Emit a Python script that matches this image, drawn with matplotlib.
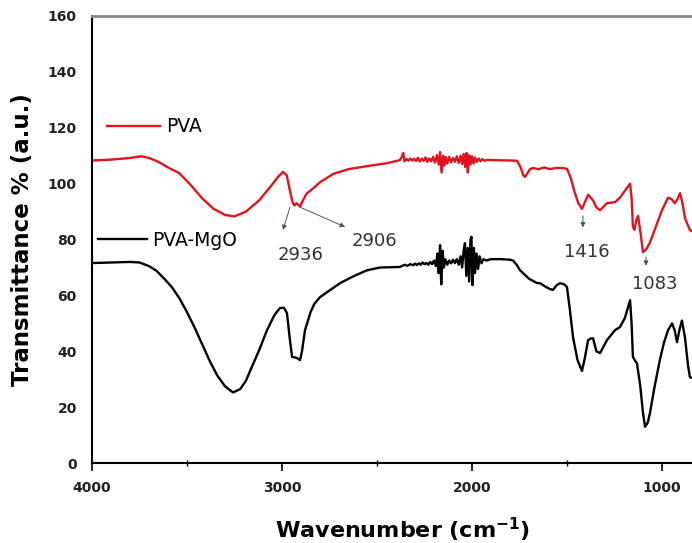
import matplotlib.pyplot as plt

# PVA spectrum (wavenumber cm-1, transmittance %)
pva_wn = [4000, 3900, 3800, 3740, 3700, 3650, 3600, 3542, 3480, 3421, 3360, 3300, 3250, 3190, 3121,
          3060, 3020, 2995, 2975, 2960, 2945, 2935, 2925, 2915, 2905, 2890, 2870, 2850, 2800,
          2730, 2650, 2550, 2450, 2380, 2370, 2362, 2355, 2345, 2335, 2325, 2315, 2305, 2295, 2285,
          2275, 2265, 2255, 2245, 2235, 2225, 2215, 2205, 2195, 2185, 2175, 2168, 2160, 2152, 2145,
          2138, 2130, 2120, 2110, 2100, 2090, 2080, 2070, 2060, 2052, 2044, 2036, 2028, 2022, 2015,
          2008, 2000, 1992, 1984, 1975, 1965, 1955, 1945, 1935, 1920, 1880, 1800, 1763, 1745, 1730,
          1721, 1710, 1695, 1679, 1650, 1620, 1590, 1560, 1520, 1500, 1480, 1460, 1440, 1421, 1405,
          1389, 1375, 1363, 1345, 1326, 1290, 1247, 1221, 1195, 1168, 1160, 1153, 1145, 1135, 1126,
          1112, 1100, 1083, 1063, 1030, 1000, 968, 950, 932, 918, 905, 892, 879, 853, 842]
pva_t = [108.3, 108.6, 109.2, 109.8, 109.2, 107.8, 105.8, 103.8, 99.5, 94.8, 91.0, 88.8, 88.3, 90.0, 94.0,
         99.0, 102.5, 104.2, 103.0, 98.0, 93.5, 92.2, 93.0, 92.5, 91.8, 94.0, 96.5, 97.5, 100.5,
         103.5, 105.2, 106.3, 107.3, 108.4, 109.5, 111.0, 108.0, 108.8, 108.2, 109.0, 108.3, 108.9, 108.1, 109.2,
         107.9, 109.0, 108.2, 109.4, 107.8, 109.0, 108.0, 109.6, 107.5, 110.2, 106.8, 111.3, 104.0, 110.0, 106.5,
         109.5, 107.2, 109.6, 107.6, 109.2, 107.8, 109.8, 107.4, 110.0, 107.0, 110.6, 106.0, 111.0, 104.0, 110.2,
         106.8, 109.8, 107.2, 109.4, 107.8, 109.0, 108.0, 108.8, 108.2, 108.5, 108.4, 108.3, 108.2, 106.0, 103.0,
         102.4, 103.5, 105.2, 105.6, 105.2, 105.8, 105.2, 105.6, 105.6, 105.3, 102.0, 97.0, 93.0, 91.0, 93.5,
         96.0, 95.0, 94.0, 91.5, 90.5, 93.0, 93.4, 95.0, 97.5, 100.0, 95.0, 84.5, 83.5, 87.0, 88.5,
         82.0, 75.5, 76.5, 79.0, 85.0, 90.5, 95.0, 94.5, 93.0, 94.5, 96.6, 93.0, 87.7, 83.4, 83.0]

# PVA-MgO spectrum
mgo_wn = [4000, 3900, 3800, 3750, 3700, 3660, 3620, 3580, 3540, 3500, 3460, 3420, 3380, 3342, 3300,
          3258, 3220, 3190, 3168, 3120, 3079, 3040, 3011, 2990, 2974, 2960, 2947, 2930, 2921, 2905,
          2895, 2879, 2850, 2830, 2800, 2750, 2695, 2620, 2553, 2484, 2380, 2370, 2355, 2340, 2325,
          2310, 2300, 2290, 2280, 2270, 2260, 2250, 2240, 2230, 2220, 2210, 2200, 2190, 2182, 2176,
          2168, 2162, 2155, 2148, 2140, 2130, 2120, 2110, 2100, 2090, 2080, 2070, 2060, 2052, 2044,
          2037, 2030, 2022, 2015, 2008, 2003, 1998, 1990, 1984, 1976, 1968, 1960, 1950, 1940, 1925,
          1900, 1850, 1800, 1784, 1765, 1747, 1700, 1660, 1642, 1610, 1590, 1574, 1555, 1537, 1515,
          1500, 1485, 1468, 1445, 1421, 1405, 1389, 1375, 1363, 1345, 1326, 1290, 1247, 1221, 1195,
          1168, 1160, 1153, 1140, 1132, 1115, 1100, 1089, 1075, 1063, 1040, 1011, 990, 968, 947,
          933, 921, 907, 895, 879, 863, 853, 842]
mgo_t = [71.6, 71.8, 72.0, 71.8, 70.5, 68.8, 66.0, 63.0, 59.0, 54.0, 48.5, 42.5, 36.5, 31.5, 27.5,
         25.3, 26.5, 29.5, 33.0, 40.5, 47.6, 53.0, 55.5, 55.6, 53.7, 45.0, 38.0, 37.8, 37.6, 36.9,
         40.0, 47.6, 54.0, 57.0, 59.4, 61.8, 64.4, 67.0, 69.0, 70.0, 70.2, 70.5, 71.0, 70.6, 71.2,
         70.8, 71.4, 70.9, 71.5, 71.0, 71.8, 71.2, 71.6, 71.0, 72.0, 71.2, 72.5, 70.5, 75.0, 68.0,
         78.0, 64.0, 76.0, 70.0, 73.0, 71.0, 72.5, 71.5, 72.8, 71.6, 73.0, 71.0, 74.0, 70.0, 76.0,
         78.7, 67.0, 77.0, 65.0, 80.0, 81.0, 63.7, 77.0, 68.0, 75.0, 69.5, 74.0, 71.5, 73.0, 72.5,
         73.0, 73.0, 72.8, 72.5, 71.0, 69.0, 66.0, 64.5, 64.4, 63.0, 62.3, 62.0, 63.6, 64.4, 64.0,
         63.0, 55.0, 45.0, 37.0, 33.0, 38.0, 44.0, 44.6, 44.7, 40.0, 39.4, 44.0, 47.6, 48.7, 52.0,
         58.3, 50.0, 38.0, 36.5, 35.8, 28.0, 18.0, 13.0, 14.5, 18.0, 27.0, 37.0, 43.0, 47.6, 50.0,
         47.5, 43.3, 48.0, 51.0, 45.0, 35.0, 30.8, 30.5]

# peak labels: text, arrow tail (wn, T), arrow head (wn, T), text position (wn, T)
peak_labels = ['2936', '2906', '1416', '1083']
peak_tail = [(2958, 91.6), (2905, 91.6), (1416, 88.5), (1084, 73.8)]
peak_head = [(2995, 83.4), (2668, 84.5), (1416, 84.3), (1084, 70.6)]
peak_text = [(2900, 74.4), (2511, 79.5), (1395, 75.7), (1037, 64.0)]

fig = plt.figure(figsize=(6.92, 5.43), dpi=100)
ax = fig.add_axes([0.133, 0.147, 0.867, 0.8236])

red_line, = ax.plot(pva_wn, pva_t, color='#e0141e', lw=1.7)
blk_line, = ax.plot(mgo_wn, mgo_t, color='black', lw=1.7)

for lab, tail, head, pos in zip(peak_labels, peak_tail, peak_head, peak_text):
    ax.annotate('', xy=head, xytext=tail,
                arrowprops=dict(arrowstyle='-|>', color='#4a5a60', lw=0.7,
                                mutation_scale=7, shrinkA=0, shrinkB=0))
    ax.text(pos[0], pos[1], lab, fontsize=13, color='#333333', ha='center', va='center')

leg1 = ax.legend([red_line], ['PVA'], loc='center left', bbox_to_anchor=(0.025, 0.752),
                 frameon=False, fontsize=13.5, handlelength=2.8, handletextpad=0.35,
                 borderpad=0, borderaxespad=0)
ax.add_artist(leg1)
ax.legend([blk_line], ['PVA-MgO'], loc='center left', bbox_to_anchor=(0.01, 0.499),
          frameon=False, fontsize=13.5, handlelength=2.6, handletextpad=0.3,
          borderpad=0, borderaxespad=0)

ax.set_xlim(4000, 842)
ax.set_ylim(0, 160)
ax.set_xticks([4000, 3000, 2000, 1000])
ax.set_xticks([3500, 2500, 1500], minor=True)
ax.set_yticks(range(0, 161, 20))
ax.tick_params(axis='x', which='major', direction='out', length=6, width=1.2, pad=7)
ax.tick_params(axis='x', which='minor', direction='inout', length=4, width=1.0)
ax.tick_params(axis='y', length=0, pad=11)
for t in ax.get_xticklabels() + ax.get_yticklabels():
    t.set_fontweight('bold')
    t.set_fontsize(10)
    t.set_color('#222222')

ax.spines['right'].set_visible(False)
ax.spines['left'].set_linewidth(1.5)
ax.spines['bottom'].set_linewidth(1.5)
ax.spines['top'].set_linewidth(2)
ax.spines['top'].set_color('#888888')

ax.set_ylabel('Transmittance % (a.u.)', fontsize=16.5, fontweight='bold', labelpad=10)
ax.set_xlabel(r'Wavenumber (cm$^{\mathbf{-1}}$)', fontsize=16, fontweight='bold')
ax.xaxis.set_label_coords(0.517, -0.118)

plt.savefig('out.png', dpi=100)
